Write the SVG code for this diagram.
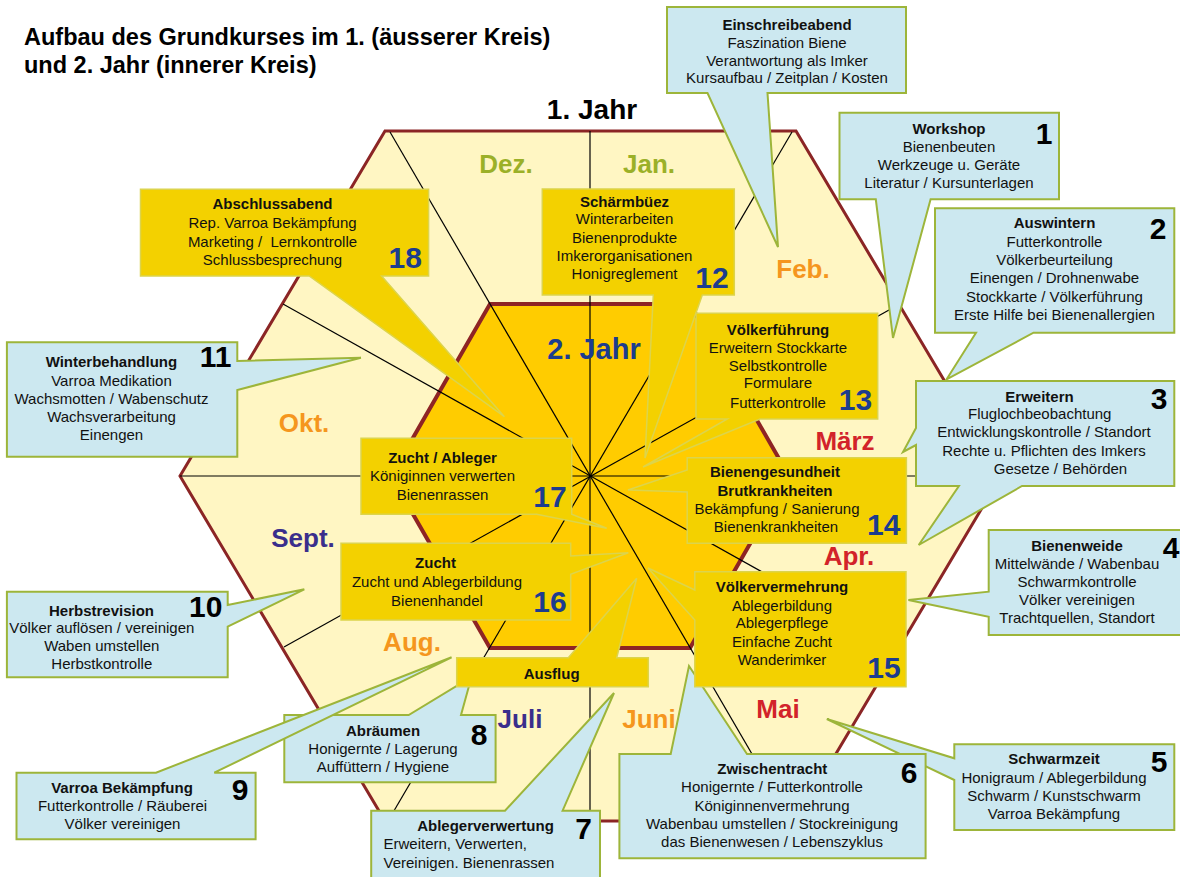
<svg xmlns="http://www.w3.org/2000/svg" width="1180" height="877" viewBox="0 0 1180 877">
<style>
text{font-family:"Liberation Sans",Arial,Helvetica,sans-serif;fill:#111}
.t{font-size:15px;text-anchor:middle}
.l{font-size:15px;text-anchor:start}
.b{font-weight:bold}
.num{font-size:30px;font-weight:bold;text-anchor:middle;fill:#000}
.yn{fill:#1C3C8E}
.mon{font-size:26px;font-weight:bold;text-anchor:middle}
.ol{fill:#9BB028}
.or{fill:#F5961E}
.rd{fill:#D2232A}
.pu{fill:#3A2E8C}
.blue{fill:#CCE8F0;stroke:#9DB53A;stroke-width:2}
.yel{fill:#F3D100;stroke:#DCD44C;stroke-width:1.5}
.rad{stroke:#000;stroke-width:1.2;fill:none}
</style>
<rect width="1180" height="877" fill="#fff"/>
<g id="title">
<text x="24" y="45" style="font-size:23.5px;font-weight:bold;fill:#000">Aufbau des Grundkurses im 1. (äusserer Kreis)</text>
<text x="24" y="73" style="font-size:23.5px;font-weight:bold;fill:#000">und 2. Jahr (innerer Kreis)</text>
</g>
<g id="hexagons">
<polygon points="385,131 796,131 1001,476 796,821 385,821 180,476" fill="#FFF6C3" stroke="#8B2525" stroke-width="3"/>
<polygon points="490,304 690,304 789,476 690,648 490,648 391,476" fill="#FFCC00" stroke="#8E2424" stroke-width="4"/>
</g>
<g id="connectors">
<line class="rad" x1="590" y1="131" x2="590" y2="821"/>
<line class="rad" x1="180" y1="476" x2="1001" y2="476"/>
<line class="rad" x1="390" y1="132" x2="791" y2="821"/>
<line class="rad" x1="792" y1="132" x2="388" y2="821"/>
<line class="rad" x1="283" y1="304" x2="898" y2="648"/>
<line class="rad" x1="898" y1="305" x2="284" y2="647"/>
</g>
<g id="labels">
<text x="592" y="119" style="font-size:28px;font-weight:bold;text-anchor:middle;fill:#000">1. Jahr</text>
<text x="594" y="359" style="font-size:29px;font-weight:bold;text-anchor:middle;fill:#1C3C8E">2. Jahr</text>
<text class="mon ol" x="506" y="173">Dez.</text>
<text class="mon ol" x="649" y="173">Jan.</text>
<text class="mon or" x="803" y="278">Feb.</text>
<text class="mon rd" x="845" y="450">März</text>
<text class="mon rd" x="849" y="565">Apr.</text>
<text class="mon rd" x="778" y="718">Mai</text>
<text class="mon or" x="649" y="728">Juni</text>
<text class="mon pu" x="520" y="728">Juli</text>
<text class="mon or" x="412" y="651">Aug.</text>
<text class="mon pu" x="303" y="547">Sept.</text>
<text class="mon or" x="304" y="432">Okt.</text>
</g>
<g id="n0">
<path class="blue" d="M667,7 H906 V93 H767.5 L778,247 L707.5,93 H667 Z"/>
<text class="t b" x="787" y="29.5">Einschreibeabend</text>
<text class="t" x="787" y="47.5">Faszination Biene</text>
<text class="t" x="787" y="65.5">Verantwortung als Imker</text>
<text class="t" x="787" y="83">Kursaufbau / Zeitplan / Kosten</text>
</g>
<g id="n1">
<path class="blue" d="M839.5,112.7 H1059 V199.3 H930.6 L893,338 L875.8,199.3 H839.5 Z"/>
<text class="t b" x="949" y="133.5">Workshop</text>
<text class="t" x="949" y="151.5">Bienenbeuten</text>
<text class="t" x="949" y="169.5">Werkzeuge u. Geräte</text>
<text class="t" x="949" y="188">Literatur / Kursunterlagen</text>
<text class="num" x="1044" y="144">1</text>
</g>
<g id="n2">
<path class="blue" d="M935,208.3 H1174.3 V332.7 H1033.5 L946.6,379.3 L976,332.7 H935 Z"/>
<text class="t b" x="1054.5" y="228.3">Auswintern</text>
<text class="t" x="1054.5" y="246.7">Futterkontrolle</text>
<text class="t" x="1054.5" y="265">Völkerbeurteilung</text>
<text class="t" x="1054.5" y="283.3">Einengen / Drohnenwabe</text>
<text class="t" x="1054.5" y="301.7">Stockkarte / Völkerführung</text>
<text class="t" x="1054.5" y="320">Erste Hilfe bei Bienenallergien</text>
<text class="num" x="1158" y="239">2</text>
</g>
<g id="n3">
<path class="blue" d="M916,381 H1174.3 V486 H1022 L918.7,545 L958.9,486 H916 V445 L903,452 L916,428 Z"/>
<text class="t b" x="1039.5" y="401.7">Erweitern</text>
<text class="t" x="1039.7" y="419.3">Fluglochbeobachtung</text>
<text class="t" x="1044" y="437.3">Entwicklungskontrolle / Standort</text>
<text class="t" x="1044" y="455.7">Rechte u. Pflichten des Imkers</text>
<text class="t" x="1060.5" y="474.3">Gesetze / Behörden</text>
<text class="num" x="1159" y="409.3">3</text>
</g>
<g id="n4">
<path class="blue" d="M988.7,530 H1183 V635 H988.7 V616.7 L908.4,600 L988.7,591.7 Z"/>
<text class="t b" x="1077" y="550.7">Bienenweide</text>
<text class="t" x="1077" y="568.5">Mittelwände / Wabenbau</text>
<text class="t" x="1077" y="586.7">Schwarmkontrolle</text>
<text class="t" x="1077" y="605.3">Völker vereinigen</text>
<text class="t" x="1077" y="623.3">Trachtquellen, Standort</text>
<text class="num" x="1171" y="558">4</text>
</g>
<g id="n5">
<path class="blue" d="M954.3,744.3 H1174.3 V830 H954.3 V780 L826.8,719 L954.3,758.3 Z"/>
<text class="t b" x="1054" y="764.3">Schwarmzeit</text>
<text class="t" x="1054" y="783">Honigraum / Ablegerbildung</text>
<text class="t" x="1054" y="801.3">Schwarm / Kunstschwarm</text>
<text class="t" x="1054" y="819.3">Varroa Bekämpfung</text>
<text class="num" x="1159" y="772.3">5</text>
</g>
<g id="n6">
<path class="blue" d="M619.4,754 H670.7 L689,666 L747,754 H925.6 V858.3 H619.4 Z"/>
<text class="t b" x="772.3" y="774.3">Zwischentracht</text>
<text class="t" x="772" y="792.3">Honigernte / Futterkontrolle</text>
<text class="t" x="772" y="810.7">Königinnenvermehrung</text>
<text class="t" x="772" y="829.3">Wabenbau umstellen / Stockreinigung</text>
<text class="t" x="772" y="847.3">das Bienenwesen / Lebenszyklus</text>
<text class="num" x="909" y="782.7">6</text>
</g>
<g id="n7">
<path class="blue" d="M371.2,810.7 H505 L614,693 L562.6,810.7 H600 V879 H371.2 Z"/>
<text class="t b" x="485.5" y="830.7">Ablegerverwertung</text>
<text class="l" x="383.5" y="849.3">Erweitern, Verwerten,</text>
<text class="l" x="383.5" y="868.3">Vereinigen. Bienenrassen</text>
<text class="num" x="583.5" y="839.3">7</text>
</g>
<g id="n8">
<path class="blue" d="M284.3,715 H408.7 L471.5,677 L461,715 H495.6 V782.3 H284.3 Z"/>
<text class="t b" x="383" y="735.7">Abräumen</text>
<text class="t" x="383" y="754.3">Honigernte / Lagerung</text>
<text class="t" x="383" y="772.3">Auffüttern / Hygiene</text>
<text class="num" x="479" y="745">8</text>
</g>
<g id="n9">
<path class="blue" d="M16.5,772.7 H156 L451.6,657.3 L214.3,772.7 H255.6 V839.3 H16.5 Z"/>
<text class="t b" x="122" y="793.3">Varroa Bekämpfung</text>
<text class="t" x="122.5" y="811">Futterkontrolle / Räuberei</text>
<text class="t" x="122.5" y="829.3">Völker vereinigen</text>
<text class="num" x="240" y="800">9</text>
</g>
<g id="n10">
<path class="blue" d="M6.9,591.7 H227.7 V605 L304.3,589.3 L227.7,626.7 V677.3 H6.9 Z"/>
<text class="t b" x="101.5" y="615.7">Herbstrevision</text>
<text class="t" x="101.8" y="633.3">Völker auflösen / vereinigen</text>
<text class="t" x="101.8" y="651">Waben umstellen</text>
<text class="t" x="101.8" y="669.3">Herbstkontrolle</text>
<text class="num" x="205.7" y="617.3">10</text>
</g>
<g id="n11">
<path class="blue" d="M6.9,342.3 H237.3 V361 L360.9,357.7 L237.3,390 V456.7 H6.9 Z"/>
<text class="t b" x="111.4" y="367.3">Winterbehandlung</text>
<text class="t" x="111.5" y="386">Varroa Medikation</text>
<text class="t" x="111.5" y="404">Wachsmotten / Wabenschutz</text>
<text class="t" x="111.5" y="422.3">Wachsverarbeitung</text>
<text class="t" x="111.5" y="440">Einengen</text>
<text class="num" x="215.6" y="367.3">11</text>
</g>
<g id="n12">
<path class="yel" d="M542.3,189 H734.3 V295 H702.3 L645,458 L653.3,295 H542.3 Z"/>
<text class="t b" x="624.5" y="206.7">Schärmbüez</text>
<text class="t" x="624.5" y="224.3">Winterarbeiten</text>
<text class="t" x="624.5" y="242.7">Bienenprodukte</text>
<text class="t" x="624.5" y="261">Imkerorganisationen</text>
<text class="t" x="624.5" y="279.3">Honigreglement</text>
<text class="num yn" x="712" y="287.7">12</text>
</g>
<g id="n13">
<path class="yel" d="M696,313.3 H877.7 V419 H760 L643,467 L727.3,419 H696 Z"/>
<text class="t b" x="778" y="335">Völkerführung</text>
<text class="t" x="778" y="352.7">Erweitern Stockkarte</text>
<text class="t" x="778" y="370.7">Selbstkontrolle</text>
<text class="t" x="778" y="388.3">Formulare</text>
<text class="t" x="778" y="407.7">Futterkontrolle</text>
<text class="num yn" x="855.5" y="410">13</text>
</g>
<g id="n14">
<path class="yel" d="M687.2,457.7 H906.4 V543.3 H687.2 V492 L628,490 L687.2,470 Z"/>
<text class="t b" x="775" y="477.3">Bienengesundheit</text>
<text class="t b" x="775" y="496">Brutkrankheiten</text>
<text class="t" x="777" y="514.3">Bekämpfung / Sanierung</text>
<text class="t" x="776" y="532.3">Bienenkrankheiten</text>
<text class="num yn" x="883.7" y="535">14</text>
</g>
<g id="n15">
<path class="yel" d="M694.8,571.7 H906 V686.7 H694.8 V620 L648,568 L694.8,590 Z"/>
<text class="t b" x="782" y="592.3">Völkervermehrung</text>
<text class="t" x="782" y="610.7">Ablegerbildung</text>
<text class="t" x="782" y="628.3">Ablegerpflege</text>
<text class="t" x="782" y="646.7">Einfache Zucht</text>
<text class="t" x="782" y="665">Wanderimker</text>
<text class="num yn" x="884" y="678.3">15</text>
</g>
<g id="n16">
<path class="yel" d="M341,543.3 H570.7 V556 L628.3,552.7 L570.7,574.3 V620 H341 Z"/>
<text class="t b" x="435.5" y="568.3">Zucht</text>
<text class="t" x="437" y="587.3">Zucht und Ablegerbildung</text>
<text class="t" x="437" y="605.7">Bienenhandel</text>
<text class="num yn" x="550" y="612.3">16</text>
</g>
<g id="n17">
<path class="yel" d="M361,438.3 H571.7 V514.3 L606.7,528.3 L536.7,514.3 H361 Z"/>
<text class="t b" x="442.5" y="463.3">Zucht / Ableger</text>
<text class="t" x="442.5" y="481">Königinnen verwerten</text>
<text class="t" x="442.5" y="500">Bienenrassen</text>
<text class="num yn" x="550" y="507.3">17</text>
</g>
<g id="n18">
<path class="yel" d="M140.5,189.3 H428.6 V276 H381.6 L504.4,416.7 L309.2,276 H140.5 Z"/>
<text class="t b" x="272.5" y="209.3">Abschlussabend</text>
<text class="t" x="272.5" y="228.3">Rep. Varroa Bekämpfung</text>
<text class="t" x="272.5" y="246.7">Marketing /&#160; Lernkontrolle</text>
<text class="t" x="272.5" y="265">Schlussbesprechung</text>
<text class="num yn" x="405.3" y="267.7">18</text>
</g>
<g id="n19">
<path class="yel" d="M456.7,657.7 H568.3 L636.7,578.3 L616.7,657.7 H648.3 V686.7 H456.7 Z"/>
<text class="t b" x="551.7" y="679.3">Ausflug</text>
</g>
</svg>
